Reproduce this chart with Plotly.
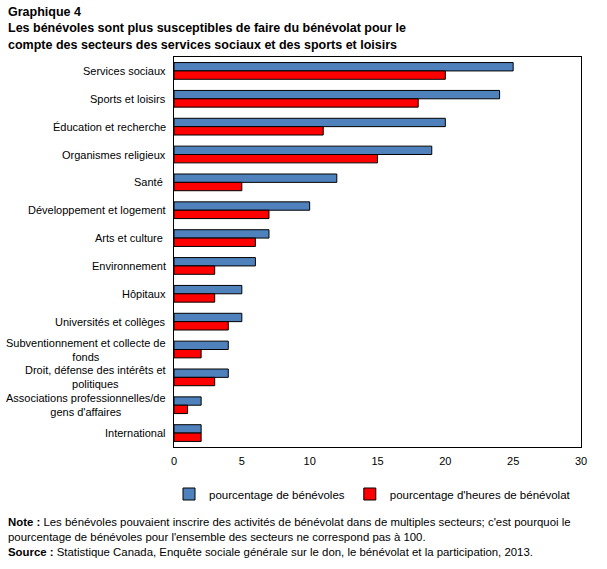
import plotly.graph_objects as go

categories = [
    "Services sociaux",
    "Sports et loisirs",
    "Éducation et recherche",
    "Organismes religieux",
    "Santé ",
    "Développement et logement",
    "Arts et culture ",
    "Environnement",
    "Hôpitaux",
    "Universités et collèges",
    "Subventionnement et collecte de<br>fonds",
    "Droit, défense des intérêts et<br>politiques",
    "Associations professionnelles/de<br>gens d'affaires",
    "International",
]
pct_benevoles = [25, 24, 20, 19, 12, 10, 7, 6, 5, 5, 4, 4, 2, 2]
pct_heures = [20, 18, 11, 15, 5, 7, 6, 3, 3, 4, 2, 3, 1, 2]
x_ticks = [0, 5, 10, 15, 20, 25, 30]

FONT = "Liberation Sans, Arial, sans-serif"
ids = list(range(len(categories)))

fig = go.Figure()
fig.add_trace(go.Bar(
    y=ids, x=pct_benevoles, orientation="h", name="pourcentage de bénévoles",
    marker=dict(color="#4F81BD", line=dict(color="black", width=1)),
))
fig.add_trace(go.Bar(
    y=ids, x=pct_heures, orientation="h", name="pourcentage d'heures de bénévolat",
    marker=dict(color="#FF0000", line=dict(color="black", width=1)),
))

plot_top, plot_h = 57, 569 - 57 - 122
plot_left, plot_w = 174, 607 - 174 - 26

annotations = []
for i, c in enumerate(categories):
    annotations.append(dict(
        x=0, xref="paper", y=i, yref="y", xanchor="right", yanchor="middle",
        xshift=-6, text=c, showarrow=False, align="center",
        font=dict(family=FONT, size=11, color="black"),
    ))

texts = [
    ("<b>Graphique 4</b>", 12, 12.5),
    ("<b>Les bénévoles sont plus susceptibles de faire du bénévolat pour le</b>", 28, 12.5),
    ("<b>compte des secteurs des services sociaux et des sports et loisirs</b>", 45, 12.5),
    ("<b>Note :</b> Les bénévoles pouvaient inscrire des activités de bénévolat dans de multiples secteurs; c'est pourquoi le", 522, 11.4),
    ("pourcentage de bénévoles pour l'ensemble des secteurs ne correspond pas à 100.", 537, 11.4),
    ("<b>Source :</b> Statistique Canada, Enquête sociale générale sur le don, le bénévolat et la participation, 2013.", 552, 11.4),
]
for t, ypix, sz in texts:
    annotations.append(dict(
        x=(6 - plot_left) / plot_w, xref="paper",
        y=1 - (ypix - plot_top) / plot_h, yref="paper",
        xanchor="left", yanchor="middle", text=t, showarrow=False, align="left",
        font=dict(family=FONT, size=sz, color="black"),
    ))

fig.update_layout(
    width=607, height=569,
    margin=dict(l=174, r=26, t=57, b=122),
    paper_bgcolor="white", plot_bgcolor="white",
    barmode="group", bargap=0.4, bargroupgap=0,
    font=dict(family=FONT, size=11, color="black"),
    showlegend=True,
    legend=dict(orientation="h", x=0.5 - 5 / plot_w, xanchor="center",
                y=-(494 - 447) / plot_h, yanchor="middle",
                font=dict(family=FONT, size=11.5, color="black"), traceorder="normal",
                itemwidth=30, tracegroupgap=0),
    xaxis=dict(range=[0, 30], tickvals=x_ticks, showgrid=False, zeroline=False,
               showline=True, linecolor="black", linewidth=1, mirror=True,
               ticks="", ticklabelstandoff=4,
               tickfont=dict(family=FONT, size=11, color="black")),
    yaxis=dict(range=[len(categories) - 0.5, -0.5], tickvals=ids, showticklabels=False,
               showgrid=False, zeroline=False, showline=True, linecolor="black",
               linewidth=1, mirror=True, ticks=""),
    annotations=annotations,
)

fig.write_html("out.html")
